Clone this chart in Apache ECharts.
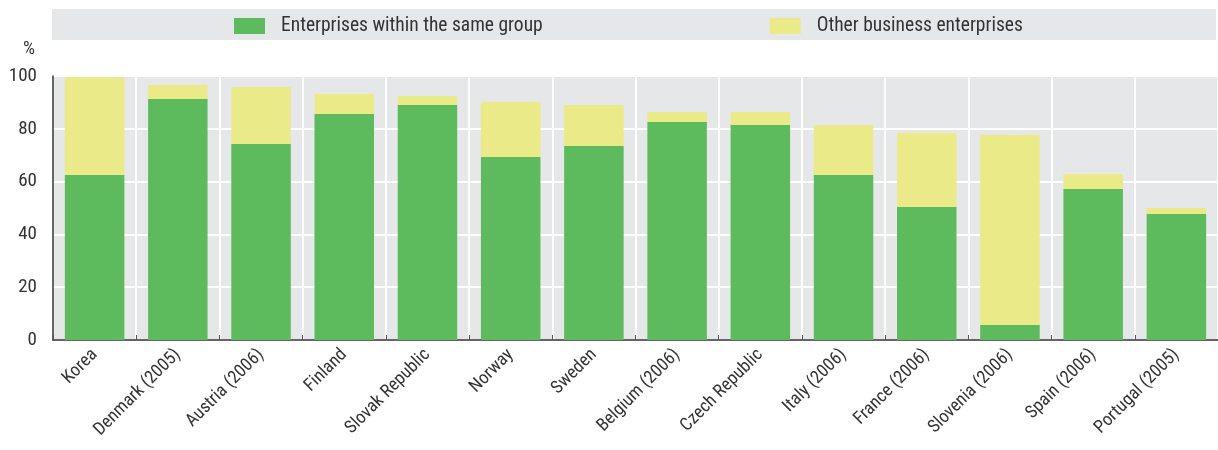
<!DOCTYPE html>
<html><head><meta charset="utf-8">
<script src="https://cdn.jsdelivr.net/npm/echarts@6/dist/echarts.min.js"></script>
<style>html,body{margin:0;padding:0;background:#fff}#c{width:1218px;height:450px}</style>
</head><body><div id="c"></div>
<script>
const categories = ["Korea","Denmark (2005)","Austria (2006)","Finland","Slovak Republic","Norway","Sweden","Belgium (2006)","Czech Republic","Italy (2006)","France (2006)","Slovenia (2006)","Spain (2006)","Portugal (2005)"];
const sameGroup = [62.5,91.3,74.2,85.6,89.0,69.3,73.5,82.6,81.4,62.5,50.4,5.7,57.2,47.7];
const total = [99.6,96.6,95.8,93.2,92.4,90.2,89.0,86.4,86.4,81.4,78.4,77.7,62.9,50.0];
const otherBusiness = total.map((t,i)=>+(t-sameGroup[i]).toFixed(1));
const yTicks = [0,20,40,60,80,100];
const FONT = '"Liberation Sans Narrow","Arial Narrow","Roboto Condensed",sans-serif';

const chart = echarts.init(document.getElementById('c'));
chart.setOption({
  animation:false,
  textStyle:{fontFamily:FONT},
  graphic:[
    {type:'rect',shape:{x:52,y:9,width:1164,height:31},style:{fill:'#e6e7e8'},z:-1},
    {type:'text',left:23,top:40,style:{text:'%',font:'19px '+FONT,fill:'#333'}},
    {type:'line',shape:{x1:53,y1:76,x2:58,y2:76},style:{stroke:'#333',lineWidth:1.5}}
  ],
  legend:{
    left:234, top:16, itemWidth:31, itemHeight:16, itemGap:227, padding:0,
    icon:'rect',
    textStyle:{fontFamily:FONT,fontSize:19.5,color:'#333',padding:[0,0,0,11]},
    data:['Enterprises within the same group','Other business enterprises']
  },
  grid:{left:53,width:1172,top:76,height:264,show:true,backgroundColor:'#e6e7e8',borderWidth:0},
  xAxis:{
    type:'category', data:categories,
    axisLine:{lineStyle:{color:'#333',width:1.5}},
    axisTick:{show:true,inside:true,length:5,lineStyle:{color:'#555'}},
    splitLine:{show:true,lineStyle:{color:'#fff',width:2}},
    axisLabel:{rotate:45,fontSize:18,color:'#333',fontFamily:FONT,margin:12,interval:0}
  },
  yAxis:{
    type:'value', min:0, max:100, interval:20,
    axisLine:{show:true,lineStyle:{color:'#333',width:1.5}},
    axisTick:{show:false},
    splitLine:{lineStyle:{color:'#fff',width:2}},
    axisLabel:{fontSize:19,color:'#333',fontFamily:FONT,margin:16}
  },
  series:[
    {name:'Enterprises within the same group',type:'bar',stack:'a',data:sameGroup,
     barCategoryGap:'28.5%',itemStyle:{color:'#5dbb5d'}},
    {name:'Other business enterprises',type:'bar',stack:'a',data:otherBusiness,
     itemStyle:{color:'#eaea88'}}
  ]
});
</script></body></html>
